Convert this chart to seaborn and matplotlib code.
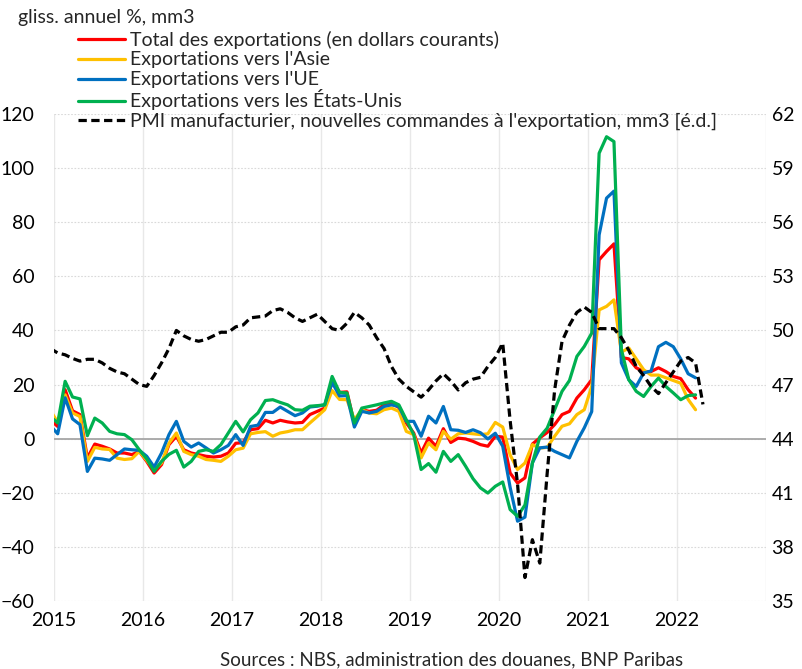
import numpy as np
import pandas as pd
import matplotlib
matplotlib.use("Agg")
import matplotlib.pyplot as plt
import seaborn as sns

# ---------------- data (monthly, Dec 2014 -> Mar/Apr 2022, 3-month moving averages) ----------------
start_year = 2014
start_month = 12

total = [7, 4.5, 18.1, 10.3, 8.9, -7.1, -2, -2.8, -3.8, -5.3, -5.3, -5.9, -4.7,
         -8.4, -12.7, -9.6, -2.2, 0.9, -4.1, -5.3, -5.9, -6.5, -6.8, -6.5, -5.3,
         -1.7, -1.5, 3.3, 3.7, 6.8, 5.8, 6.8, 6.2, 5.8, 6, 8.9, 10.1,
         11.3, 21, 17.1, 17.3, 5.5, 10.7, 10.1, 10.5, 12.5, 13.2, 11.5, 5.8,
         2.1, -5.3, 0.2, -2.8, 3.7, -1.4, 0.2, -0.1, -1, -2.2, -2.8, 0.9,
         0.6, -12.7, -16.4, -14.5, -2, 0.3, 2.3, 5.2, 8.9, 10.1, 15, 18.1,
         21.8, 66.1, 69.2, 72, 30, 29.5, 26.2, 24.8, 24.8, 26.2, 24.8, 23,
         22.2, 18.1, 15]

asia = [10.5, 6, 16.2, 9.5, 8.2, -8.4, -3.2, -3.8, -4, -7.2, -7.7, -7.4, -4.7,
        -8, -11.4, -9, -1.7, 2.1, -4.7, -5.9, -6.5, -7.7, -8, -8.4, -6.5,
        -4.1, -3.5, 1.8, 2.3, 2.6, 0.9, 2.1, 2.6, 3.3, 3.3, 5.8, 8.2,
        10.7, 17.8, 14.5, 14.4, 7, 10.7, 9.5, 9.2, 10.7, 11.3, 10.1, 2.7,
        1.5, -7.1, -1.6, -4.1, 2.7, -0.2, 1.8, 2.1, 1.8, 1.5, 1.8, 6,
        4.3, -6, -11.4, -9, -2.2, -3.5, -3.2, 0.9, 4.6, 5.5, 8.9, 10.7,
        19.3, 47.6, 48.9, 51.3, 32, 33.5, 29.5, 25.5, 23.5, 23.5, 22.5, 21.5,
        20.5, 14.5, 10.7]

eu = [4.8, 1.8, 15.1, 7.3, 5.2, -12.1, -7.2, -7.5, -8, -5.9, -3.8, -4.1, -4.3,
      -6.5, -10.5, -5.3, 1.5, 6.4, -1, -3.1, -1.6, -3.4, -5.3, -4.1, -2.5,
      1.5, -2.5, 4.5, 5, 9.7, 9.7, 11.7, 10.1, 8.5, 9.5, 11.7, 12,
      12.5, 20.8, 15.8, 15.9, 4.3, 10.1, 9.5, 10.1, 11.9, 12.5, 11.9, 6.4,
      6.4, 0.9, 8.3, 5.8, 11.9, 3.3, 3.1, 2.3, 3.3, 2.2, -0.1, 2,
      -2.8, -18, -30.5, -29, -9, -3.4, -3.1, -4.7, -5.9, -7.1, -1, 4,
      10, 75.3, 88.9, 91.5, 28, 21.8, 19.3, 24.3, 25, 34, 35.6, 34,
      29.5, 24, 22.5]

us = [8.2, 5.8, 21.2, 15.4, 14.7, 1.1, 7.6, 5.8, 2.7, 1.8, 1.5, -0.4, -4.1,
      -7.5, -12.1, -8.4, -5.8, -4.3, -10.5, -8.4, -4.7, -4.1, -4.7, -2.2, 2.1,
      6.4, 2.5, 7, 9.5, 14.1, 14.4, 13.4, 12.5, 10.7, 10.5, 12, 12.2,
      12.5, 23, 17.1, 16.9, 5.8, 11.3, 11.9, 12.5, 13.2, 13.8, 12.5, 7,
      1.5, -11.4, -9.2, -12.4, -4.7, -8.4, -5.9, -10.2, -14.8, -18.2, -20.1, -17.6,
      -16, -26.2, -28.7, -24.5, -9, 0.6, 3.9, 10.7, 17.5, 21.5, 30.4, 34.1,
      39, 105.5, 111.6, 109.8, 33, 21.8, 17.5, 15.6, 19.3, 22.4, 19.3, 16.9,
      14.4, 15.9, 16.2]

pmi = [49.0, 48.75, 48.65, 48.45, 48.3, 48.4, 48.4, 48.2, 47.9, 47.7, 47.6, 47.3, 47.0,
       46.9, 47.5, 48.2, 49.0, 50.0, 49.7, 49.5, 49.4, 49.5, 49.7, 49.9, 49.9,
       50.2, 50.3, 50.7, 50.75, 50.8, 51.1, 51.2, 51.0, 50.7, 50.5, 50.7, 50.9,
       50.5, 50.1, 50.0, 50.4, 51.0, 50.7, 50.3, 49.6, 49.0, 48.0, 47.3, 46.9,
       46.6, 46.3, 46.7, 47.2, 47.6, 47.2, 46.7, 47.1, 47.3, 47.4, 48.0, 48.5,
       49.3, 45.0, 41.5, 36.3, 38.4, 37.1, 42.1, 46.7, 49.4, 50.3, 51.0, 51.3,
       51.0, 50.1, 50.1, 50.1, 49.6, 48.9, 48.0, 47.5, 46.9, 46.5, 47.1, 47.7,
       48.3, 48.5, 48.2, 45.9]

series_labels = ["Total des exportations (en dollars courants)",
                 "Exportations vers l'Asie",
                 "Exportations vers l'UE",
                 "Exportations vers les États-Unis"]
pmi_label = "PMI manufacturier, nouvelles commandes à l'exportation, mm3 [é.d.]"
colors = ["#FF0000", "#FFC000", "#0070C0", "#00B050"]

year_ticks = [2015, 2016, 2017, 2018, 2019, 2020, 2021, 2022, 2023]
year_labels = ["2015", "2016", "2017", "2018", "2019", "2020", "2021", "2022", ""]
left_ticks = [-60, -40, -20, 0, 20, 40, 60, 80, 100, 120]
right_ticks = [35, 38, 41, 44, 47, 50, 53, 56, 59, 62]

# ---------------- build frames ----------------
def month_x(n):
    # plotted at mid-month
    k = np.arange(n)
    m0 = (start_year - 2015) * 12 + (start_month - 1)
    return 2015 + (m0 + k + 0.5) / 12.0

x_exp = month_x(len(total))
df = pd.DataFrame({"x": np.tile(x_exp, 4),
                   "v": np.concatenate([total, asia, eu, us]),
                   "serie": np.repeat(series_labels, len(total))})
df_pmi = pd.DataFrame({"x": month_x(len(pmi)), "v": pmi})

# ---------------- style ----------------
sns.set_theme(style="white")
plt.rcParams["font.family"] = ["Lato", "DejaVu Sans"]
FS = 14

fig = plt.figure(figsize=(8.02, 6.69), dpi=100)
ax = fig.add_axes([54 / 802, 1 - 601 / 669, (766 - 54) / 802, (601 - 114) / 669])
ax2 = ax.twinx()

for i, lab in enumerate(series_labels):
    sns.lineplot(data=df[df["serie"] == lab], x="x", y="v", ax=ax, color=colors[i],
                 linewidth=2.3, label=lab, legend=False, zorder=3 + i)

sns.lineplot(data=df_pmi, x="x", y="v", ax=ax2, color="black", linewidth=2.3,
             label=pmi_label, legend=False)
ax2.lines[0].set_dashes((2.6, 1.4))

ax.axhline(0, color="#A6A6A6", lw=1.3, zorder=2)

ax.set_xlim(2015, 2023)
ax.set_ylim(-60, 120)
ax2.set_ylim(35, 62)
ax.set_yticks(left_ticks)
ax2.set_yticks(right_ticks)
ax.set_xticks(year_ticks)
ax.set_xticklabels(year_labels)

ax.grid(axis="y", color="#D9D9D9", linestyle=(0, (1.5, 1.5)), lw=0.8)
ax.grid(axis="x", color="#E8E8E8", linestyle="-", lw=1.0)
ax.set_axisbelow(True)
ax2.grid(False)
for a in (ax, ax2):
    for s in a.spines.values():
        s.set_visible(False)
    a.set_xlabel("")
    a.set_ylabel("")

ax.tick_params(axis="y", labelsize=FS, length=0, pad=14, labelcolor="black")
ax.tick_params(axis="x", labelsize=FS, length=0, pad=8, labelcolor="black")
ax2.tick_params(axis="y", labelsize=FS, length=0, pad=4, labelcolor="black")

# legend: one row per entry, evenly spaced
handles = ax.get_lines()[:4] + ax2.get_lines()[:1]
labels = series_labels + [pmi_label]
row_y = [40, 60, 80, 100, 121]
for h, lab, yy in zip(handles, labels, row_y):
    fig.legend([h], [lab], loc="center left", bbox_to_anchor=(78 / 802, 1 - yy / 669),
               frameon=False, fontsize=FS, handlelength=2.4, handletextpad=0.25,
               borderaxespad=0, borderpad=0)

fig.text(18 / 802, 1 - 18 / 669, "gliss. annuel %, mm3", fontsize=FS, va="center", ha="left")
fig.text(452 / 802, 1 - 660 / 669, "Sources : NBS, administration des douanes, BNP Paribas",
         fontsize=FS - 0.5, va="center", ha="center")

fig.savefig("out.png", dpi=100)
